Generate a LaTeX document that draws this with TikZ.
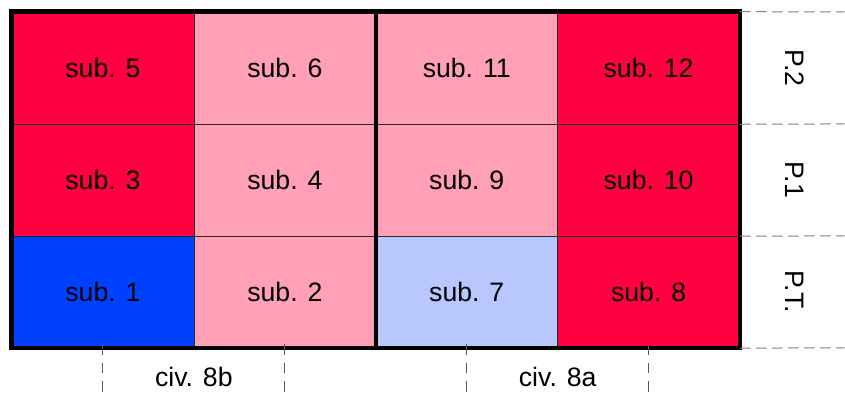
\documentclass[tikz,border=0pt]{standalone}
\usepackage{fontspec}
\setmainfont{Liberation Sans}
\definecolor{subred}{RGB}{255,0,64}
\definecolor{subpink}{RGB}{255,160,182}
\definecolor{subblue}{RGB}{0,64,255}
\definecolor{sublight}{RGB}{184,200,255}
\tikzset{every picture/.style={line width=0.75pt}}
\tikzset{
  cell/.style={draw={rgb, 255:red, 40; green, 40; blue, 40 }, line width=0.5pt, minimum width=136.5pt, minimum height=84pt, inner sep=0pt, font=\fontsize{20}{24}\selectfont},
  lbl/.style={inner sep=0.75pt, font=\fontsize{20}{24}\selectfont},
  frame/.style={line width=3.4pt},
  level/.style={color={rgb, 255:red, 128; green, 128; blue, 128 }, dash pattern={on 8pt off 4pt}},
  axis/.style={color={rgb, 255:red, 90; green, 90; blue, 90 }, dash pattern={on 8pt off 6pt}}
}

\begin{document}
\begin{tikzpicture}[x=0.75pt,y=0.75pt,yscale=-1,xscale=1]
\path (0,0) rectangle (845,398); %page size

% Cells
\node [cell, fill=subred] (s5) at (103,68) {sub. 5};
\node [cell, fill=subpink] (s6) at (285,68) {sub. 6};
\node [cell, fill=subpink] (s11) at (467,68) {sub. 11};
\node [cell, fill=subred] (s12) at (649,68) {sub. 12};
\node [cell, fill=subred] (s3) at (103,180) {sub. 3};
\node [cell, fill=subpink] (s4) at (285,180) {sub. 4};
\node [cell, fill=subpink] (s9) at (467,180) {sub. 9};
\node [cell, fill=subred] (s10) at (649,180) {sub. 10};
\node [cell, fill=subblue] (s1) at (103,292) {sub. 1};
\node [cell, fill=subpink] (s2) at (285,292) {sub. 2};
\node [cell, fill=sublight] (s7) at (467,292) {sub. 7};
\node [cell, fill=subred] (s8) at (649,292) {sub. 8};

%Frame
\draw [frame] (s5.north west) rectangle (s8.south east);
\draw [frame] (s6.north east) -- (s2.south east);

%Level lines
\coordinate (l2) at (845,12);
\coordinate (l1) at (845,124);
\coordinate (l0) at (845,236);
\coordinate (lb) at (845,348);
\draw [level] (s12.north east) -- (l2);
\draw [level] (s12.south east) -- (l1);
\draw [level] (s10.south east) -- (l0);
\draw [level] (s8.south east) -- (lb);

%Axis lines
\coordinate (a1) at (103,398);
\coordinate (a2) at (285,398);
\coordinate (a7) at (467,398);
\coordinate (a8) at (649,398);
\draw [axis] ([yshift=-3pt]s1.south) -- (a1);
\draw [axis] ([yshift=-3pt]s2.south) -- (a2);
\draw [axis] ([yshift=-3pt]s7.south) -- (a7);
\draw [axis] ([yshift=-3pt]s8.south) -- (a8);

% Text Node
\node [lbl, rotate=-90] (p2) at (795,68) {P.2};
% Text Node
\node [lbl, rotate=-90] (p1) at (795,180) {P.1};
% Text Node
\node [lbl, rotate=-90] (pt) at (795,292) {P.T.};
% Text Node
\node [lbl] (civb) at (194,377) {civ. 8b};
% Text Node
\node [lbl] (civa) at (558,377) {civ. 8a};

\end{tikzpicture}
\end{document}
